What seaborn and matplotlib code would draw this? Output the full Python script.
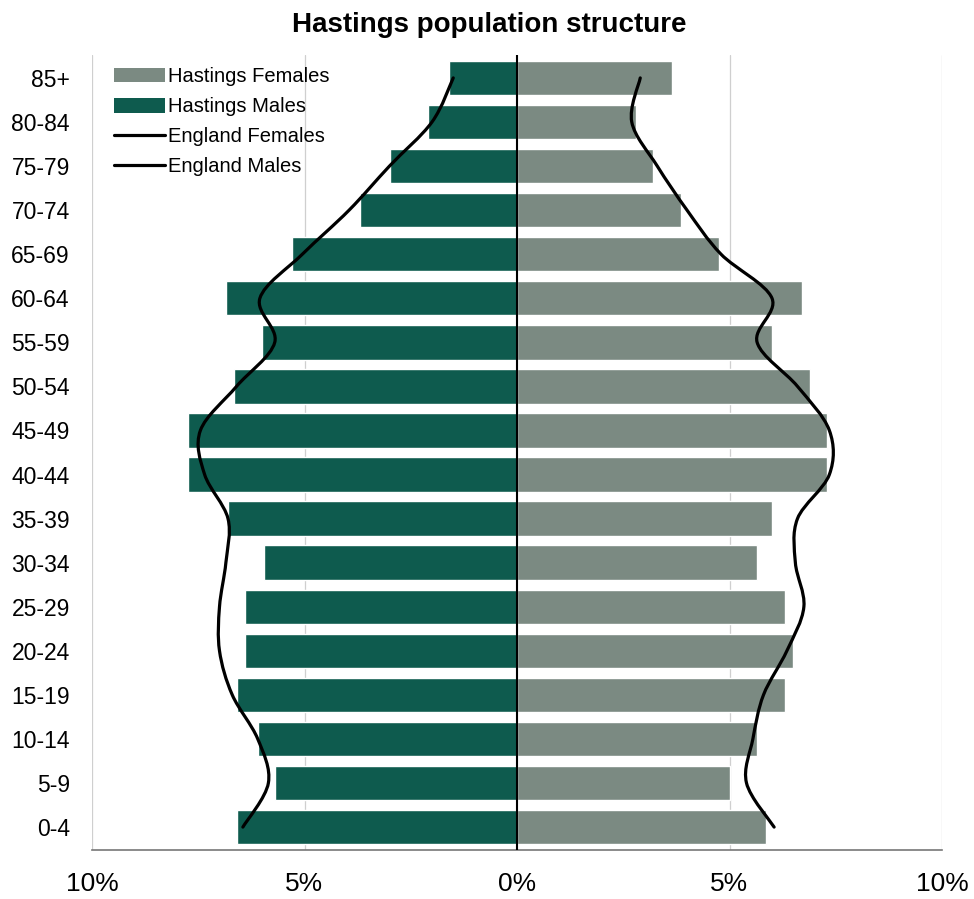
import numpy as np
import pandas as pd
import matplotlib
matplotlib.use('Agg')
import matplotlib.pyplot as plt
import seaborn as sns
from matplotlib.path import Path
from matplotlib.patches import PathPatch, Patch
from matplotlib.lines import Line2D

# === data (percent of population), listed from youngest to oldest ===
ages = ['0-4', '5-9', '10-14', '15-19', '20-24', '25-29', '30-34', '35-39', '40-44',
        '45-49', '50-54', '55-59', '60-64', '65-69', '70-74', '75-79', '80-84', '85+']
hastings_males = [6.6, 5.7, 6.1, 6.6, 6.4, 6.4, 5.95, 6.8, 7.75,
                  7.75, 6.65, 6.0, 6.85, 5.3, 3.7, 3.0, 2.1, 1.6]
hastings_females = [5.85, 5.0, 5.65, 6.3, 6.5, 6.3, 5.65, 6.0, 7.3,
                    7.3, 6.9, 6.0, 6.7, 4.75, 3.85, 3.2, 2.8, 3.65]
england_males = [6.45, 5.85, 6.1, 6.7, 7.0, 7.0, 6.85, 6.8, 7.35,
                 7.45, 6.6, 5.7, 6.05, 5.05, 3.95, 3.0, 2.0, 1.5]
england_females = [6.05, 5.4, 5.55, 5.8, 6.35, 6.75, 6.55, 6.6, 7.35,
                   7.35, 6.6, 5.65, 6.0, 4.8, 4.0, 3.3, 2.7, 2.9]

order = ages[::-1]  # oldest at the top

df = pd.DataFrame({'age': ages,
                   'males': [-v for v in hastings_males],
                   'females': hastings_females})

# === style ===
sns.set_style('white')
plt.rcParams['font.family'] = ['Liberation Sans', 'DejaVu Sans']
plt.rcParams['text.color'] = 'black'
plt.rcParams['xtick.color'] = 'black'
plt.rcParams['ytick.color'] = 'black'

male_col = '#0e5b4e'
female_col = '#7b8a82'

fig = plt.figure(figsize=(9.74, 8.99), dpi=100)
ax = fig.add_axes([92 / 974, 1 - 850 / 899, 850 / 974, 795 / 899])

sns.barplot(data=df, x='males', y='age', order=order, color=male_col,
            width=0.78, saturation=1, ax=ax, orient='h')
sns.barplot(data=df, x='females', y='age', order=order, color=female_col,
            width=0.78, saturation=1, ax=ax, orient='h')


# smoothed England lines (Bezier through the data points, like Excel smoothing)
def smooth_path(xs, ys):
    pts = np.column_stack([xs, ys])
    verts = [pts[0]]
    codes = [Path.MOVETO]
    n = len(pts)
    for i in range(n - 1):
        p0 = pts[i - 1] if i > 0 else pts[i]
        p1 = pts[i]
        p2 = pts[i + 1]
        p3 = pts[i + 2] if i + 2 < n else pts[i + 1]
        c1 = p1 + (p2 - p0) / 6
        c2 = p2 - (p3 - p1) / 6
        verts += [c1, c2, p2]
        codes += [Path.CURVE4] * 3
    return Path(verts, codes)


pos = [order.index(a) for a in ages]
for vals, sign in [(england_males, -1), (england_females, 1)]:
    path = smooth_path([sign * v for v in vals], pos)
    ax.add_patch(PathPatch(path, facecolor='none', edgecolor='black',
                           lw=2.3, zorder=5, capstyle='round'))

# === axes ===
ax.set_xlim(-10, 10)
ax.set_ylim(len(ages) - 0.48, -0.52)
ax.set_xticks([-10, -5, 0, 5, 10])
ax.set_xticklabels(['10%', '5%', '0%', '5%', '10%'], fontsize=19)
ax.set_xlabel('')
ax.set_ylabel('')
ax.tick_params(axis='y', length=0, pad=16, labelsize=16.5)
ax.tick_params(axis='x', length=6, width=1, color='#666666', pad=10, direction='out')
for s in ['left', 'right', 'top']:
    ax.spines[s].set_visible(False)
ax.spines['bottom'].set_color('#777777')
ax.spines['bottom'].set_linewidth(1.2)
for gx in [-10, -5, 5, 10]:
    ax.axvline(gx, color='#cfcfcf', lw=0.9, zorder=0)
ax.axvline(0, color='black', lw=1.5, zorder=4)

# === legend ===
handles = [Patch(facecolor=female_col, edgecolor='none'),
           Patch(facecolor=male_col, edgecolor='none'),
           Line2D([], [], color='black', lw=2.3),
           Line2D([], [], color='black', lw=2.3)]
labels = ['Hastings Females', 'Hastings Males', 'England Females', 'England Males']
ax.legend(handles, labels, loc='upper left', bbox_to_anchor=(0.012, 1.0),
          frameon=False, fontsize=14.5, handlelength=2.5, handleheight=0.75,
          handletextpad=0.15, labelspacing=0.55, borderaxespad=0.2)

fig.suptitle('Hastings population structure', fontsize=20, fontweight='bold',
             x=489 / 974, y=1 - 12 / 899, va='top')

plt.savefig('out.png', dpi=100)
